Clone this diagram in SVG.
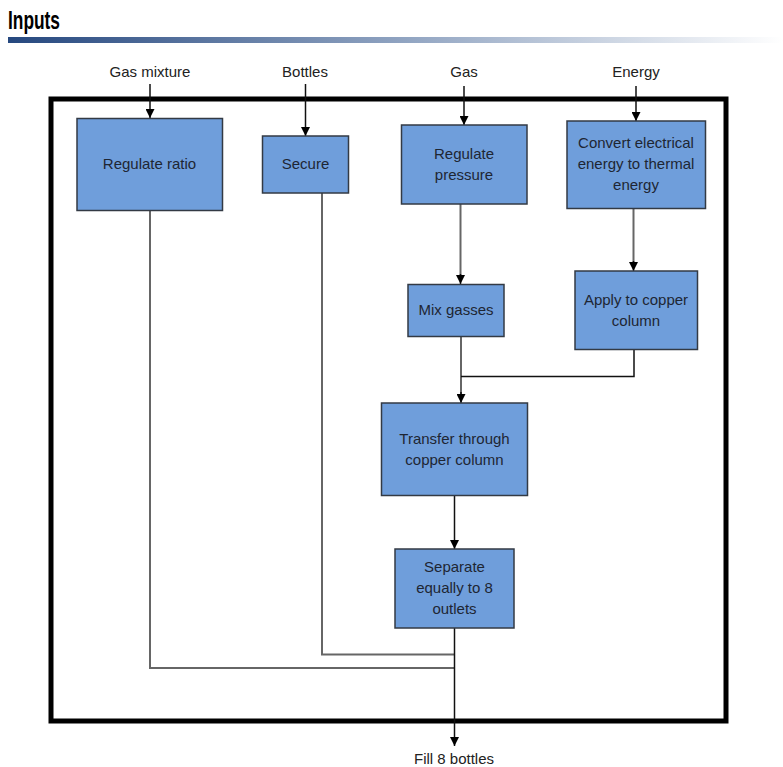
<svg xmlns="http://www.w3.org/2000/svg" width="783" height="767" viewBox="0 0 783 767">
<defs>
<linearGradient id="bar" x1="0" y1="0" x2="1" y2="0">
<stop offset="0" stop-color="#26487f"/>
<stop offset="0.5" stop-color="#8ea2c0"/>
<stop offset="1" stop-color="#ffffff"/>
</linearGradient>
<marker id="arr" viewBox="0 0 10 10" refX="10" refY="5" markerWidth="9" markerHeight="9" markerUnits="userSpaceOnUse" orient="auto">
<path d="M0,0 L10,5 L0,10 Z" fill="#000"/>
</marker>
</defs>
<style>
.box{fill:#6f9edb;stroke:#333a44;stroke-width:1.5}
.t{font-family:"Liberation Sans",Arial,sans-serif;font-size:15px;fill:#1e2633;text-anchor:middle}
.lbl{font-family:"Liberation Sans",Arial,sans-serif;font-size:15px;fill:#222;text-anchor:middle}
.c{fill:none;stroke:#111;stroke-width:1.5}
.g{fill:none;stroke:#666;stroke-width:2}
</style>
<rect width="783" height="767" fill="#fff"/>
<text x="8" y="29" font-family="'Liberation Sans',Arial,sans-serif" font-size="26" font-weight="bold" fill="#000" textLength="52" lengthAdjust="spacingAndGlyphs">Inputs</text>
<rect x="8" y="37" width="775" height="6" fill="url(#bar)"/>
<rect id="frame" x="51" y="99" width="675" height="622" fill="none" stroke="#000" stroke-width="5"/>
<g id="connectors">
<line class="c" x1="150" y1="84" x2="150" y2="118" marker-end="url(#arr)"/>
<line class="c" x1="305.5" y1="84" x2="305.5" y2="136" marker-end="url(#arr)"/>
<line class="c" x1="464" y1="86" x2="464" y2="125" marker-end="url(#arr)"/>
<line class="c" x1="636" y1="86" x2="636" y2="121" marker-end="url(#arr)"/>
<line class="g" x1="460.5" y1="204" x2="460.5" y2="275"/>
<line class="c" x1="460.5" y1="274" x2="460.5" y2="284" marker-end="url(#arr)"/>
<line class="g" x1="633.5" y1="208" x2="633.5" y2="262"/>
<line class="c" x1="633.5" y1="261" x2="633.5" y2="271" marker-end="url(#arr)"/>
<line class="g" x1="461" y1="337" x2="461" y2="394"/>
<polyline class="c" points="634,349 634,376.5 461,376.5"/>
<line class="c" x1="461" y1="392" x2="461" y2="403" marker-end="url(#arr)"/>
<line class="c" x1="454.5" y1="495" x2="454.5" y2="549" marker-end="url(#arr)"/>
<polyline class="g" points="150,210 150,668 454.5,668"/>
<polyline class="g" points="322,193 322,654.5 454.5,654.5"/>
<line class="c" x1="454.5" y1="628" x2="454.5" y2="746" marker-end="url(#arr)"/>
</g>
<g id="n_gasmix"><text class="lbl" x="150" y="77">Gas mixture</text></g>
<g id="n_bottles"><text class="lbl" x="305" y="77">Bottles</text></g>
<g id="n_gas"><text class="lbl" x="464" y="77">Gas</text></g>
<g id="n_energy"><text class="lbl" x="636" y="77">Energy</text></g>
<g id="n_fill"><text class="lbl" x="454" y="764">Fill 8 bottles</text></g>
<g id="n_ratio"><rect class="box" x="77" y="118.5" width="145.5" height="92"/><text class="t" x="149.5" y="169">Regulate ratio</text></g>
<g id="n_secure"><rect class="box" x="262.5" y="136" width="86" height="57"/><text class="t" x="305.5" y="169">Secure</text></g>
<g id="n_pressure"><rect class="box" x="401.5" y="125" width="125.5" height="79"/><text class="t" x="464" y="159">Regulate</text><text class="t" x="464" y="180">pressure</text></g>
<g id="n_convert"><rect class="box" x="567" y="121" width="138.5" height="87.5"/><text class="t" x="636" y="148">Convert electrical</text><text class="t" x="636" y="169">energy to thermal</text><text class="t" x="636" y="190">energy</text></g>
<g id="n_mix"><rect class="box" x="408" y="284.5" width="96" height="52"/><text class="t" x="456" y="315">Mix gasses</text></g>
<g id="n_apply"><rect class="box" x="575" y="271" width="122.5" height="78.5"/><text class="t" x="636" y="305">Apply to copper</text><text class="t" x="636" y="326">column</text></g>
<g id="n_transfer"><rect class="box" x="381.5" y="403" width="146" height="92.5"/><text class="t" x="454.5" y="444">Transfer through</text><text class="t" x="454.5" y="465">copper column</text></g>
<g id="n_separate"><rect class="box" x="395" y="549" width="119" height="79"/><text class="t" x="454.5" y="572">Separate</text><text class="t" x="454.5" y="593">equally to 8</text><text class="t" x="454.5" y="614">outlets</text></g>
</svg>
